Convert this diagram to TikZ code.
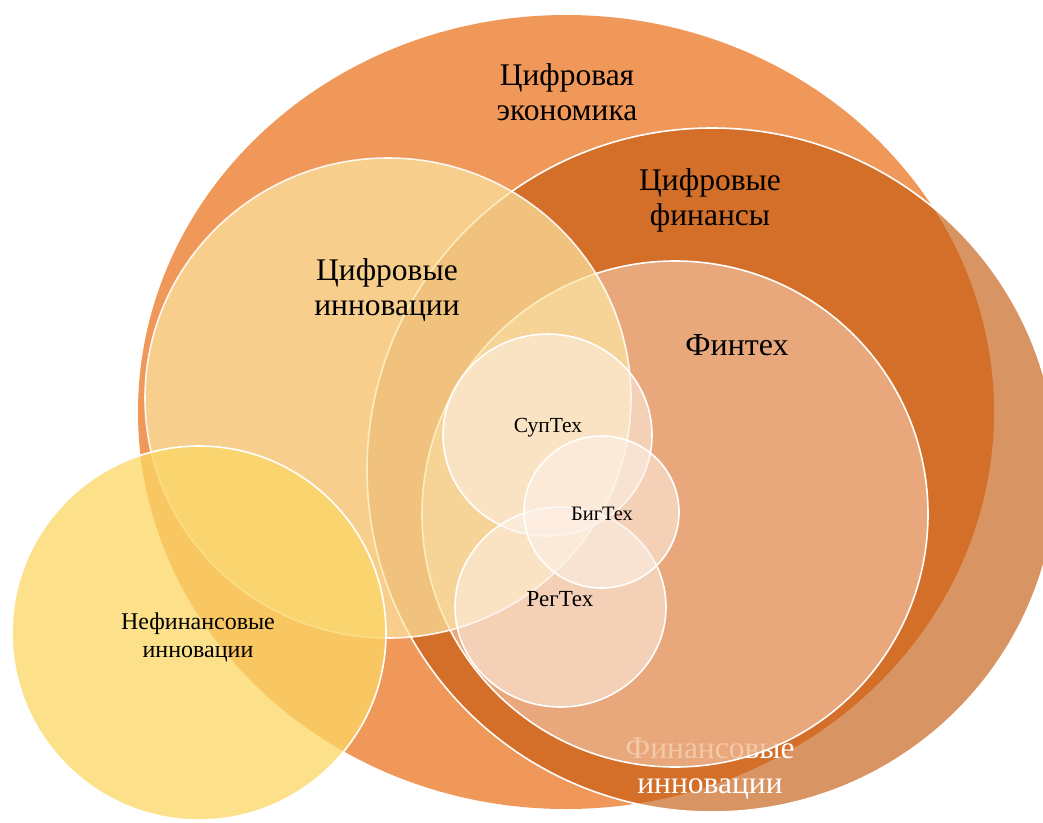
\documentclass[tikz,border=0pt]{standalone}
\usepackage{fontspec}
\setmainfont{Liberation Serif}
\definecolor{econcol}{HTML}{F0985A}
\definecolor{fincol}{HTML}{C55A11}
\definecolor{fintechcol}{HTML}{EFB992}
\definecolor{diginncol}{HTML}{FCE6A2}
\definecolor{nonfincol}{HTML}{FBD665}
\definecolor{techcol}{HTML}{FDF1E8}
\begin{document}
\begin{tikzpicture}[x=10pt,y=10pt]
            \tikzstyle{every node}+=[inner sep=0pt, align=center]
            \tikzstyle{ring}=[draw=white, line width=1.6pt]
            \tikzstyle{bigtxt}=[font=\fontsize{31.5}{35}\selectfont]
            \useasboundingbox (0,0) rectangle (104.3,-82.2);
            \clip (0,0) rectangle (104.3,-82.2);
            % outer shapes
            \fill [econcol] (56.6,-41.2) ellipse (42.8 and 39.7);
            \draw [ring, fill=fincol, fill opacity=0.65] (71.2,-47.0) ellipse (34.5 and 34.2);
            \draw (71.0,-76.9) node (fininn) [bigtxt, text=white] {Финансовые\\инновации};
            % inner circles
            \draw [ring, fill=fintechcol, fill opacity=0.78] (67.5,-51.4) circle (25.3);
            \draw [ring, fill=diginncol, fill opacity=0.7, draw opacity=0.9] (38.8,-39.8) ellipse (24.3 and 24.0);
            \draw [ring, fill=techcol, fill opacity=0.55] (54.75,-43.5) ellipse (10.45 and 10.1);
            \draw [ring, fill=techcol, fill opacity=0.55] (56.05,-60.7) ellipse (10.55 and 10.0);
            \draw [ring, fill=techcol, fill opacity=0.55] (60.15,-51.2) ellipse (7.75 and 7.6);
            \draw [ring, fill=nonfincol, fill opacity=0.76] (19.9,-63.3) circle (18.7);
            % labels
            \draw (56.7,-9.2) node (econ) [bigtxt] {Цифровая\\экономика};
            \draw (71.0,-20.0) node (digfin) [bigtxt] {Цифровые\\финансы};
            \draw (38.7,-29.0) node (diginn) [bigtxt] {Цифровые\\инновации};
            \draw (73.7,-34.5) node (fintech) [font=\fontsize{32}{35}\selectfont] {Финтех};
            \draw (54.8,-42.8) node (suptech) [font=\fontsize{21.5}{24}\selectfont] {СупТех};
            \draw (60.2,-51.4) node (bigtech) [font=\fontsize{20.5}{24}\selectfont] {БигТех};
            \draw (56.0,-59.9) node (regtech) [font=\fontsize{23}{24}\selectfont] {РегТех};
            \draw (19.8,-63.7) node (nonfin) [font=\fontsize{24}{28}\selectfont] {Нефинансовые\\инновации};
          \end{tikzpicture}
\end{document}
